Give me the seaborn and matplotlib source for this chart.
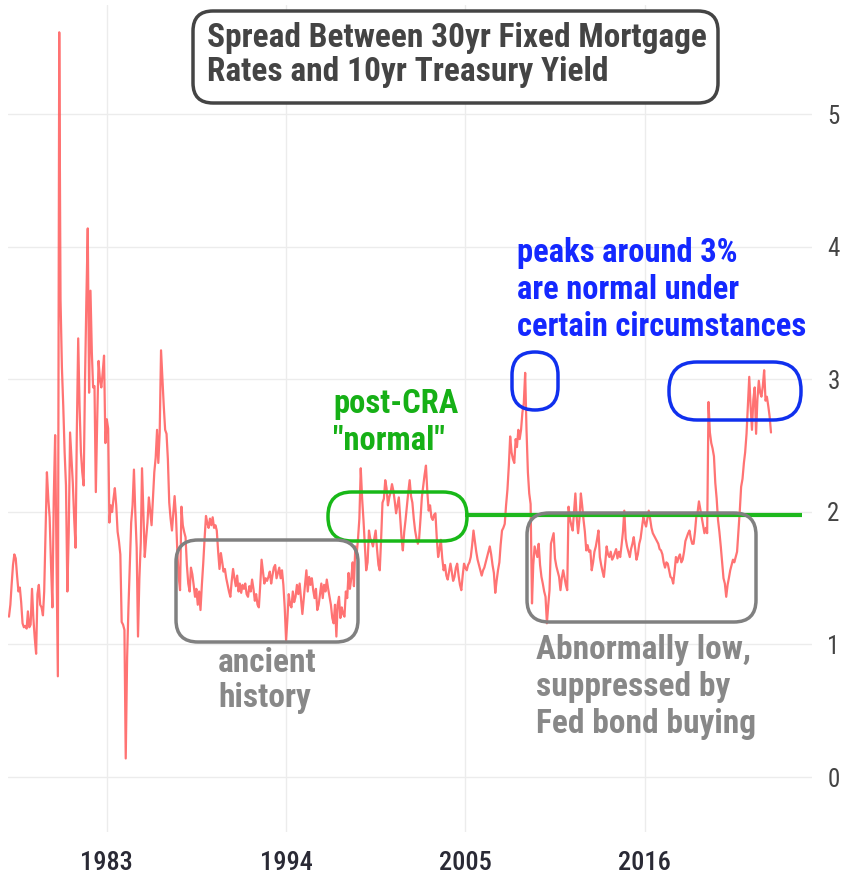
import matplotlib
matplotlib.use("Agg")
import matplotlib.pyplot as plt
import matplotlib.dates as mdates
from matplotlib.patches import FancyBboxPatch
import seaborn as sns
import pandas as pd

# monthly spread (30yr fixed mortgage minus 10yr treasury), percentage points
spread_1977_1986 = [
    1.21, 1.30, 1.45, 1.60, 1.68, 1.65, 1.52, 1.40, 1.43, 1.32, 1.16, 1.13,
    1.14, 1.12, 1.25, 1.13, 1.15, 1.42, 1.20, 1.05, 0.93, 1.38, 1.45, 1.30,
    1.28, 1.22, 1.40, 1.85, 2.30, 2.10, 1.96, 1.60, 1.28, 2.10, 2.58, 1.70,
    0.76, 5.62, 3.60, 3.09, 2.80, 2.45, 2.20, 1.40, 1.85, 2.60, 2.40, 2.22,
    1.95, 1.73, 2.60, 3.31, 2.80, 2.45, 2.30, 2.20, 3.00, 3.60, 4.14, 2.90,
    3.67, 3.20, 2.94, 2.95, 2.15, 2.70, 3.14, 3.00, 2.94, 3.05, 3.18, 2.52,
    2.70, 2.63, 1.92, 2.05, 2.00, 2.10, 2.18, 2.05, 1.85, 1.78, 1.68, 1.17,
    1.15, 1.11, 0.14, 0.90, 1.28, 1.60, 1.92, 2.05, 2.32, 2.00, 1.73, 1.06,
    1.50, 1.77, 2.33, 2.00, 1.66, 1.80, 1.92, 2.11, 2.00, 1.90, 2.11, 2.30,
    2.41, 2.62, 2.37, 2.60, 3.22, 3.00, 2.80, 2.62, 2.59, 2.40, 2.07, 1.95,
]
spread_1987_1996 = [
    1.86, 2.00, 2.12, 1.97, 1.70, 1.51, 1.41, 2.04, 1.90, 1.85, 1.81, 1.60,
    1.46, 1.40, 1.58, 1.53, 1.45, 1.36, 1.42, 1.30, 1.40, 1.26, 1.45, 1.61,
    1.80, 1.97, 1.92, 1.88, 1.95, 1.90, 1.96, 1.88, 1.90, 1.86, 1.70, 1.57,
    1.69, 1.62, 1.55, 1.57, 1.50, 1.45, 1.40, 1.36, 1.48, 1.57, 1.50, 1.44,
    1.52, 1.40, 1.46, 1.39, 1.45, 1.42, 1.46, 1.38, 1.36, 1.44, 1.40, 1.49,
    1.42, 1.33, 1.38, 1.30, 1.28, 1.45, 1.64, 1.55, 1.46, 1.50, 1.48, 1.51,
    1.55, 1.46, 1.52, 1.58, 1.60, 1.50, 1.54, 1.58, 1.50, 1.56, 1.45, 1.28,
    1.03, 1.20, 1.38, 1.30, 1.28, 1.40, 1.32, 1.36, 1.45, 1.38, 1.46, 1.35,
    1.23, 1.35, 1.45, 1.56, 1.40, 1.51, 1.45, 1.50, 1.41, 1.35, 1.42, 1.26,
    1.30, 1.38, 1.46, 1.35, 1.45, 1.40, 1.49, 1.42, 1.36, 1.30, 1.20, 1.16,
]
spread_1997_2006 = [
    1.30, 1.06, 1.30, 1.36, 1.20, 1.28, 1.23, 1.21, 1.40, 1.35, 1.54, 1.42,
    1.50, 1.62, 1.44, 1.74, 1.68, 1.80, 1.95, 2.33, 2.10, 1.94, 1.75, 1.56,
    1.62, 1.86, 1.80, 1.78, 1.74, 1.80, 1.86, 1.72, 1.60, 1.56, 1.80, 2.07,
    2.10, 2.24, 2.18, 2.05, 2.11, 2.15, 2.21, 2.16, 2.08, 1.99, 2.05, 2.11,
    1.95, 1.80, 1.71, 1.85, 1.94, 2.05, 2.15, 2.24, 2.12, 2.07, 1.95, 1.86,
    1.80, 1.76, 1.80, 1.95, 2.11, 2.20, 2.28, 2.35, 2.15, 2.01, 2.05, 1.96,
    1.94, 1.98, 1.99, 1.80, 1.66, 1.72, 1.79, 1.65, 1.56, 1.60, 1.52, 1.49,
    1.55, 1.61, 1.55, 1.48, 1.51, 1.58, 1.61, 1.52, 1.45, 1.41, 1.52, 1.61,
    1.58, 1.56, 1.60, 1.62, 1.66, 1.75, 1.86, 1.78, 1.70, 1.64, 1.60, 1.56,
    1.52, 1.56, 1.58, 1.62, 1.66, 1.70, 1.74, 1.68, 1.60, 1.54, 1.39, 1.48,
]
spread_2007_2016 = [
    1.56, 1.62, 1.75, 1.86, 1.88, 1.91, 2.05, 2.17, 2.35, 2.57, 2.45, 2.40,
    2.37, 2.55, 2.49, 2.62, 2.55, 2.62, 2.75, 2.82, 3.05, 2.62, 2.30, 2.14,
    2.06, 1.31, 1.60, 1.74, 1.70, 1.66, 1.76, 1.60, 1.51, 1.46, 1.40, 1.36,
    1.16, 1.30, 1.41, 1.76, 1.80, 1.84, 1.65, 1.59, 1.55, 1.51, 1.41, 1.50,
    1.56, 1.50, 1.45, 1.41, 2.04, 1.95, 1.90, 1.86, 2.00, 2.14, 1.95, 1.84,
    1.95, 2.14, 2.05, 1.94, 1.85, 1.71, 1.75, 1.70, 1.71, 1.56, 1.62, 1.70,
    1.74, 1.80, 1.86, 1.66, 1.60, 1.55, 1.51, 1.62, 1.74, 1.68, 1.66, 1.70,
    1.64, 1.66, 1.69, 1.72, 1.65, 1.70, 1.66, 1.75, 1.85, 2.01, 1.80, 1.74,
    1.70, 1.66, 1.72, 1.76, 1.81, 1.72, 1.64, 1.68, 1.76, 1.80, 1.88, 1.96,
    1.92, 1.89, 1.95, 2.01, 1.95, 1.88, 1.84, 1.82, 1.80, 1.78, 1.76, 1.72,
]
spread_2017_2023 = [
    1.71, 1.68, 1.62, 1.58, 1.62, 1.61, 1.56, 1.51, 1.50, 1.46, 1.55, 1.66,
    1.62, 1.66, 1.68, 1.62, 1.64, 1.70, 1.78, 1.81, 1.84, 1.86, 1.80, 1.76,
    1.76, 1.85, 1.96, 2.00, 2.08, 2.02, 1.96, 1.90, 1.84, 1.88, 1.84, 2.83,
    2.60, 2.52, 2.48, 2.42, 2.22, 2.10, 1.94, 1.85, 1.74, 1.62, 1.50, 1.46,
    1.36, 1.45, 1.50, 1.56, 1.60, 1.64, 1.62, 1.66, 1.70, 1.85, 2.01, 2.19,
    2.25, 2.37, 2.45, 2.59, 2.80, 3.02, 2.80, 2.62, 2.85, 2.94, 2.59, 2.85,
    2.99, 2.90, 2.87, 2.95, 3.07, 2.84, 2.87, 2.80, 2.72, 2.60,
]

tick_years = ["1983", "1994", "2005", "2016"]
y_ticks = [0, 1, 2, 3, 4, 5]

# the hand-drawn "normal" level
normal_level = 1.98
normal_start = "2005-01-01"
normal_end = "2025-09-01"

values = spread_1977_1986 + spread_1987_1996 + spread_1997_2006 + spread_2007_2016 + spread_2017_2023
df = pd.DataFrame({
    "date": pd.date_range("1977-01-01", periods=len(values), freq="MS"),
    "spread": values,
})

sns.set_theme(style="white")
plt.rcParams["font.family"] = ["Roboto Condensed", "DejaVu Sans"]

W, H = 843, 882
fig = plt.figure(figsize=(W / 100, H / 100), dpi=100)
ax = fig.add_axes([8 / W, 1 - 832 / H, 804 / W, 827 / H])

sns.lineplot(data=df, x="date", y="spread", color="#ff5a5a", alpha=0.85,
             linewidth=1.6, ax=ax)
ax.hlines(normal_level, pd.Timestamp(normal_start), pd.Timestamp(normal_end),
          color="#1db81d", linewidth=3, zorder=3)

ax.set_xlim(pd.Timestamp("1976-12-10"), pd.Timestamp("2026-04-07"))
ax.set_ylim(-0.415, 5.826)
ax.set_xticks([pd.Timestamp(y + "-01-01") for y in tick_years])
ax.xaxis.set_major_formatter(mdates.DateFormatter("%Y"))
ax.set_yticks(y_ticks)
ax.yaxis.tick_right()
ax.tick_params(axis="x", length=0, pad=14, labelsize=19, labelcolor="#2a2a35")
ax.tick_params(axis="y", length=0, pad=11, labelsize=18, labelcolor="#444444")
for lab in ax.get_xticklabels():
    lab.set_fontweight("medium")
ax.grid(True, color="#ececec", linewidth=1)
ax.set_xlabel("")
ax.set_ylabel("")
for s in ax.spines.values():
    s.set_visible(False)

# annotation layer in pixel units (origin top-left)
ov = fig.add_axes([0, 0, 1, 1], facecolor="none")
ov.set_xlim(0, W)
ov.set_ylim(H, 0)
ov.axis("off")


def rbox(x0, y0, x1, y1, r, color, lw=2.5, fill="none", z=4):
    p = FancyBboxPatch((x0, y0), x1 - x0, y1 - y0,
                       boxstyle=f"round,pad=0,rounding_size={r}",
                       linewidth=lw, edgecolor=color, facecolor=fill, zorder=z)
    ov.add_patch(p)


# title
rbox(193, 11, 718, 103, 20, "#444444", lw=2.5, fill="white")
ov.text(207, 55, "Spread Between 30yr Fixed Mortgage\nRates and 10yr Treasury Yield",
        ha="left", va="center", fontsize=24, fontweight="bold", color="#444444",
        linespacing=1.12, zorder=5)

# blue notes
blue = "#1428ff"
ov.text(517, 290, "peaks around 3%\nare normal under\ncertain circumstances",
        ha="left", va="center", fontsize=23.5, fontweight="bold", color=blue,
        linespacing=1.2)
rbox(512, 352, 558, 410, 23, "#1030ee")
rbox(669, 362, 801, 420, 28, "#1030ee")

# green notes
green = "#16b016"
ov.text(333, 423, "post-CRA\n\"normal\"", ha="left", va="center", fontsize=23.5,
        fontweight="bold", color=green, linespacing=1.2)
rbox(328, 492, 467, 541, 24, "#18b818")

# gray notes
gray = "#888888"
rbox(176, 540, 358, 642, 22, "#808080")
ov.text(218, 680, "ancient\nhistory", ha="left", va="center", fontsize=24,
        fontweight="bold", color=gray, linespacing=1.12)
rbox(527, 513, 756, 622, 22, "#808080")
ov.text(536, 687, "Abnormally low,\nsuppressed by\nFed bond buying", ha="left",
        va="center", fontsize=24, fontweight="bold", color=gray, linespacing=1.18)

fig.savefig("out.png", dpi=100)
